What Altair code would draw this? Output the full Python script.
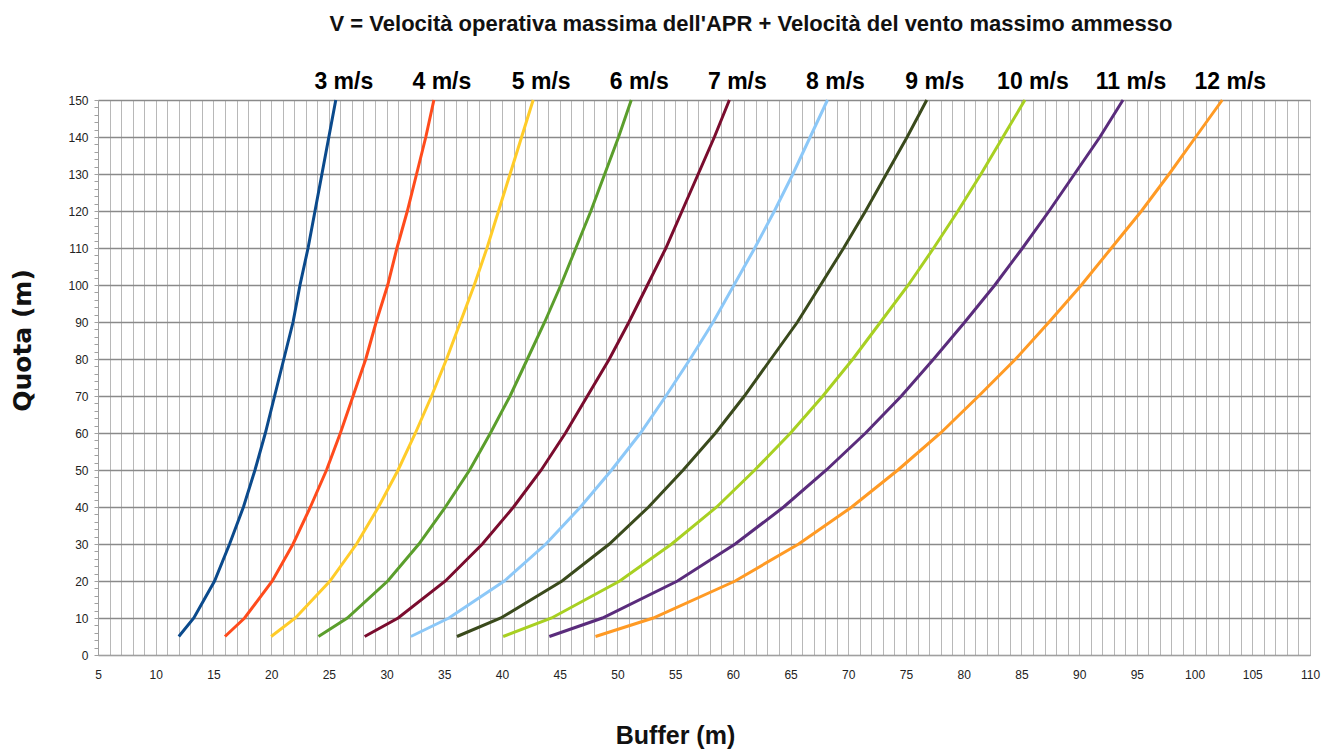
import altair as alt
import pandas as pd

quota = [5, 10, 20, 30, 40, 50, 60, 70, 80, 90, 100, 110, 120, 130, 140, 150]

speeds = ["3 m/s", "4 m/s", "5 m/s", "6 m/s", "7 m/s",
          "8 m/s", "9 m/s", "10 m/s", "11 m/s", "12 m/s"]

buffer_3 = [12.0, 13.3, 15.1, 16.4, 17.6, 18.6, 19.5, 20.3, 21.1, 21.9, 22.5, 23.2, 23.8, 24.4, 25.0, 25.6]
buffer_4 = [16.0, 17.7, 20.1, 21.9, 23.4, 24.8, 26.0, 27.1, 28.2, 29.1, 30.1, 30.9, 31.8, 32.6, 33.4, 34.1]
buffer_5 = [20.0, 22.1, 25.1, 27.4, 29.3, 31.0, 32.5, 33.9, 35.2, 36.4, 37.6, 38.7, 39.7, 40.7, 41.7, 42.7]
buffer_6 = [24.1, 26.6, 30.1, 32.8, 35.1, 37.2, 39.0, 40.7, 42.2, 43.7, 45.1, 46.4, 47.7, 48.9, 50.1, 51.2]
buffer_7 = [28.1, 31.0, 35.1, 38.3, 41.0, 43.4, 45.5, 47.4, 49.3, 51.0, 52.6, 54.2, 55.6, 57.0, 58.4, 59.7]
buffer_8 = [32.1, 35.4, 40.2, 43.8, 46.8, 49.5, 52.0, 54.2, 56.3, 58.3, 60.1, 61.9, 63.6, 65.2, 66.7, 68.2]
buffer_9 = [36.1, 39.9, 45.2, 49.3, 52.7, 55.7, 58.5, 61.0, 63.3, 65.6, 67.6, 69.6, 71.5, 73.3, 75.1, 76.8]
buffer_10 = [40.1, 44.3, 50.2, 54.7, 58.6, 61.9, 65.0, 67.8, 70.4, 72.8, 75.2, 77.4, 79.5, 81.5, 83.4, 85.3]
buffer_11 = [44.1, 48.7, 55.2, 60.2, 64.4, 68.1, 71.5, 74.6, 77.4, 80.1, 82.7, 85.1, 87.4, 89.6, 91.8, 93.8]
buffer_12 = [48.1, 53.1, 60.2, 65.7, 70.3, 74.3, 78.0, 81.3, 84.5, 87.4, 90.2, 92.8, 95.4, 97.8, 100.1, 102.4]

colors = ["#0b4a8c", "#ff4b1c", "#ffcc29", "#5b9e2c", "#7a0c2e",
          "#8cc8f8", "#3a4a1c", "#a8d022", "#5a2c7c", "#ff9a24"]

series = [buffer_3, buffer_4, buffer_5, buffer_6, buffer_7,
          buffer_8, buffer_9, buffer_10, buffer_11, buffer_12]

rows = []
for name, vals in zip(speeds, series):
    for q, b in zip(quota, vals):
        rows.append({"speed": name, "buffer": b, "quota": q})
df = pd.DataFrame(rows)

FONT = "Liberation Sans, Arial, sans-serif"

x_enc = alt.X(
    "buffer:Q",
    scale=alt.Scale(domain=[5, 110], nice=False, zero=False),
    axis=alt.Axis(
        values=list(range(5, 111)),
        labelExpr="datum.value % 5 === 0 ? datum.label : ''",
        labelOverlap=False,
        labelFlush=False,
        ticks=False,
        domainColor="#a0a0a0",
        gridColor="#b8b8b8",
        gridWidth=1,
        labelFont=FONT,
        labelFontSize=12,
        labelColor="#222222",
        labelPadding=14,
        title="Buffer (m)",
        titleFont=FONT,
        titleFontSize=25,
        titleFontWeight="bold",
        titleColor="#111111",
        titleX=577,
        titleY=88,
        titleBaseline="alphabetic",
        titleAnchor="start",
        titleAlign="center",
    ),
)

y_enc = alt.Y(
    "quota:Q",
    scale=alt.Scale(domain=[0, 150], nice=False),
    axis=alt.Axis(
        values=list(range(0, 151, 2)),
        labelExpr="datum.value % 10 === 0 ? datum.label : ''",
        labelOverlap=False,
        labelFlush=False,
        tickSize=4,
        tickColor="#a0a0a0",
        domainColor="#a0a0a0",
        gridColor={"condition": {"test": "datum.value % 10 === 0", "value": "#8a8a8a"},
                   "value": "transparent"},
        gridWidth=1.5,
        labelFont=FONT,
        labelFontSize=12,
        labelColor="#222222",
        labelPadding=6,
        title="Quota  (m)",
        titleFont="DejaVu Sans, Verdana, sans-serif",
        titleFontSize=25,
        titleFontWeight="bold",
        titleColor="#111111",
        titleX=-76,
        titleY=240,
        titleAngle=-90,
        titleAlign="center",
        titleBaseline="middle",
    ),
)

color_enc = alt.Color("speed:N", scale=alt.Scale(domain=speeds, range=colors), legend=None)

lines = alt.Chart(df).mark_line(strokeWidth=3).encode(
    x=x_enc, y=y_enc, color=color_enc, order=alt.Order("quota:Q")
)

labels = alt.Chart(df).transform_filter("datum.quota === 150").mark_text(
    align="center", baseline="alphabetic", dx=8, dy=-11,
    font=FONT, fontSize=23, fontWeight="bold", color="#000000"
).encode(x=x_enc, y=y_enc, text="speed:N")

chart = alt.layer(lines, labels).properties(
    width=1212,
    height=555,
    padding={"left": 90, "top": 92, "right": 16, "bottom": 95},
    autosize=alt.AutoSizeParams(type="none"),
    title=alt.TitleParams(
        "V = Velocità operativa massima dell'APR + Velocità del vento massimo ammesso",
        font=FONT, fontSize=22, fontWeight="bold", color="#111111",
        anchor="middle", dx=47, offset=18, baseline="alphabetic",
    ),
).configure_view(stroke="#a0a0a0").configure(background="white")

chart.save("out.html", embed_options={"renderer": "svg", "actions": False})
